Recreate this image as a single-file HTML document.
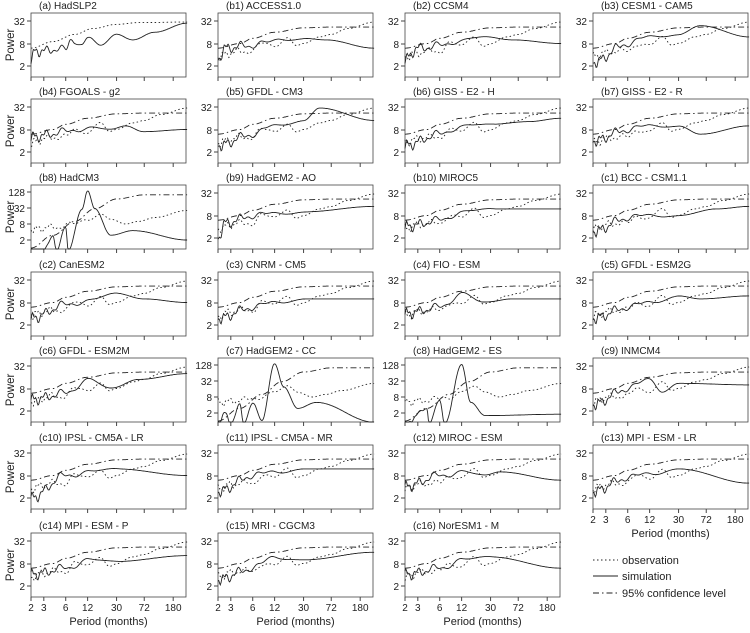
<!DOCTYPE html><html><head><meta charset="utf-8"><style>body{margin:0;background:#fff}svg text{font-family:"Liberation Sans",sans-serif;fill:#222}</style></head><body>
<svg id="s" width="750" height="628" xmlns="http://www.w3.org/2000/svg"></svg>
<script>
const S=document.getElementById('s');let h='';
const cols=[31,218,405,593],rows=[13,99,185,272,358,445,533],W=155,H=64;
const px=p=>31.6*Math.log(p/2);
function interp(pts,p){const l=Math.log(p);for(let i=0;i<pts.length-1;i++){const a=Math.log(pts[i][0]),b=Math.log(pts[i+1][0]);if(l<=b){let t=(l-a)/(b-a);t=(1-Math.cos(Math.PI*t))/2;return Math.exp(Math.log(pts[i][1])*(1-t)+Math.log(pts[i+1][1])*t);}}return pts[pts.length-1][1];}
const panels=[
["(a)  HadSLP2",[[2,3],[2.3,5],[3,5],[5,6],[6,5],[7,10],[8,8],[10,9],[12,12],[18,7],[30,14],[50,10],[100,16],[280,28]],0,1],
["(b1)  ACCESS1.0",[[2,3],[2.5,6],[5,7],[8,8],[15,10],[30,11],[60,10],[280,6]],0],
["(b2)  CCSM4",[[2,3],[3,6],[6,7],[12,10],[25,12],[60,10],[280,8]],0],
["(b3)  CESM1 - CAM5",[[2,2.5],[6,8],[12,12],[30,14],[60,24],[280,12]],0],
["(b4)  FGOALS - g2",[[2,5],[6,7],[12,9],[25,8],[40,10],[70,7],[280,8]],0],
["(b5)  GFDL - CM3",[[2,3],[6,6],[12,10],[30,14],[50,30],[280,14]],0],
["(b6)  GISS - E2 - H",[[2,3],[6,6],[12,10],[30,11],[100,13],[280,16]],0],
["(b7)  GISS - E2 - R",[[2,4],[6,8],[12,10],[30,10],[60,6],[280,10]],0],
["(b8)  HadCM3",[[2,0.8],[3,0.8],[4,3],[4.5,0.8],[6,6],[6.5,0.8],[10,30],[12,140],[15,30],[25,3],[50,4.5],[280,2]],1],
["(b9)  HadGEM2 - AO",[[2,2],[2.5,5],[6,8],[12,9],[30,10],[280,14]],0],
["(b10)  MIROC5",[[2,4],[6,6],[12,10],[30,12],[280,12]],0],
["(c1)  BCC - CSM1.1",[[2,3],[6,7],[12,8],[30,8],[100,12],[280,14]],0],
["(c2)  CanESM2",[[2,3],[6,7],[12,9],[30,14],[70,10],[280,8]],0],
["(c3)  CNRM - CM5",[[2,3],[6,6],[12,8],[30,10],[280,10]],0],
["(c4)  FIO - ESM",[[2,4],[6,6],[12,14],[24,8],[60,10],[280,10]],0],
["(c5)  GFDL - ESM2G",[[2,3],[6,6],[12,8],[30,12],[60,10],[280,12]],0],
["(c6)  GFDL - ESM2M",[[2,4],[6,6],[12,14],[25,8],[60,14],[280,20]],0],
["(c7)  HadGEM2 - CC",[[2,0.8],[2.5,2],[3,0.8],[4,4],[4.5,0.8],[6,5],[8,1],[12,140],[16,20],[25,3],[45,5],[280,0.9]],1],
["(c8)  HadGEM2 - ES",[[2,0.8],[4,3],[4.3,0.8],[6,6],[7,0.8],[12,130],[16,5],[25,1.6],[280,1.8]],1],
["(c9)  INMCM4",[[2,3],[6,8],[12,14],[18,7],[30,11],[280,10]],0],
["(c10)  IPSL - CM5A - LR",[[2,2],[6,8],[12,10],[30,12],[280,8]],0],
["(c11)  IPSL - CM5A - MR",[[2,3],[6,8],[12,10],[30,12],[280,12]],0],
["(c12)  MIROC - ESM",[[2,4],[6,8],[12,10],[25,8],[40,10],[280,6]],0],
["(c13)  MPI - ESM - LR",[[2,3],[6,7],[12,9],[30,12],[280,5]],0],
["(c14)  MPI - ESM - P",[[2,4],[6,6],[12,10],[28,9],[280,13]],0],
["(c15)  MRI - CGCM3",[[2,3],[6,6],[12,12],[30,10],[280,16]],0],
["(c16)  NorESM1 - M",[[2,4],[6,6],[12,10],[30,12],[280,6]],0]];
const obs=[[2,3.5],[3,4.5],[4,5],[6,5],[8,8],[12,7],[18,12],[24,7],[30,8],[50,12],[72,14],[120,20],[280,30]];
const obsA=[[2,6],[4,9],[8,14],[14,20],[30,26],[60,29],[280,30]];
const conf=[[2,6],[4,8],[6,11],[12,16],[30,21],[72,22],[280,22]];
const obsB=[[2,5],[4,6],[8,8],[12,12],[18,20],[25,12],[40,8],[60,10],[100,14],[280,26]];
const confB=[[2,1],[4,3],[8,10],[15,30],[30,70],[72,100],[280,100]];
function path(x0,y0,f,sc,wig,seed,dash){let d='';for(let i=0;i<=200;i++){const p=2*Math.exp(i/200*4.94);let v=Math.log(f(p));if(wig){const a=wig*Math.max(0,1-Math.log(p/2)/2.9);v+=a*Math.sin(45/p+seed)+a*0.6*Math.sin(110/p+seed*2);}
let y=sc?y0+H-9-16*(v-Math.log(2))/Math.log(4):y0+53-22.5*(v-Math.log(2))/Math.log(4);y=Math.min(y0+H,Math.max(y0,y));d+=(i?'L':'M')+(x0+px(p)).toFixed(1)+' '+y.toFixed(1);}
return `<path d="${d}" fill="none" stroke="#222" stroke-width="0.9" ${dash?'stroke-dasharray="'+dash+'"':''}/>`;}
panels.forEach((pn,k)=>{const r=Math.floor(k/4),c=k%4,x0=cols[c],y0=rows[r];const sc=pn[2];
h+=`<text x="${x0+8}" y="${y0-4}" font-size="10">${pn[0]}</text>`;
h+=`<rect x="${x0}" y="${y0}" width="${W}" height="${H}" fill="none" stroke="#444" stroke-width="0.8"/>`;
const yt=sc?[[2,H-9],[8,H-25],[32,H-41],[128,H-57]]:[[2,53],[8,31],[32,8]];
yt.forEach(t=>{h+=`<line x1="${x0-4}" x2="${x0}" y1="${y0+t[1]}" y2="${y0+t[1]}" stroke="#444"/><text x="${x0-6}" y="${y0+t[1]+4}" font-size="10" text-anchor="end">${t[0]}</text>`;});
const lab=(r==6||k==23);
[2,3,6,12,30,72,180].forEach(p=>{const x=x0+px(p);h+=`<line x1="${x}" x2="${x}" y1="${y0+H}" y2="${y0+H+4}" stroke="#444"/>`;if(lab)h+=`<text x="${x}" y="${y0+H+14}" font-size="10" text-anchor="middle">${p}</text>`;});
if(lab)h+=`<text x="${x0+W/2}" y="${y0+H+28}" font-size="11" text-anchor="middle">Period  (months)</text>`;
if(c==0)h+=`<text transform="translate(14,${y0+H/2}) rotate(-90)" font-size="11.5" text-anchor="middle">Power</text>`;
if(sc){h+=path(x0,y0,p=>interp(obsB,p),1,0.25,k,'1.5 2.5');h+=path(x0,y0,p=>interp(confB,p),1,0,0,'6 3 1.5 3');}
else{h+=path(x0,y0,p=>interp(pn[3]?obsA:obs,p),0,pn[3]?0:0.2,k*1.7,'1.5 2.5');if(!pn[3])h+=path(x0,y0,p=>interp(conf,p),0,0,0,'6 3 1.5 3');}
h+=path(x0,y0,p=>interp(pn[1],p),sc,sc?0.1:0.25,k*3.1,'');});
[['1.5 2.5','observation',563],['','simulation',579],['6 3 1.5 3','95% confidence level',596]].forEach(l=>{h+=`<line x1="593" x2="618" y1="${l[2]-3}" y2="${l[2]-3}" stroke="#222" ${l[0]?'stroke-dasharray="'+l[0]+'"':''}/><text x="622" y="${l[2]+1}" font-size="11">${l[1]}</text>`;});
S.innerHTML=h;
</script></body></html>
